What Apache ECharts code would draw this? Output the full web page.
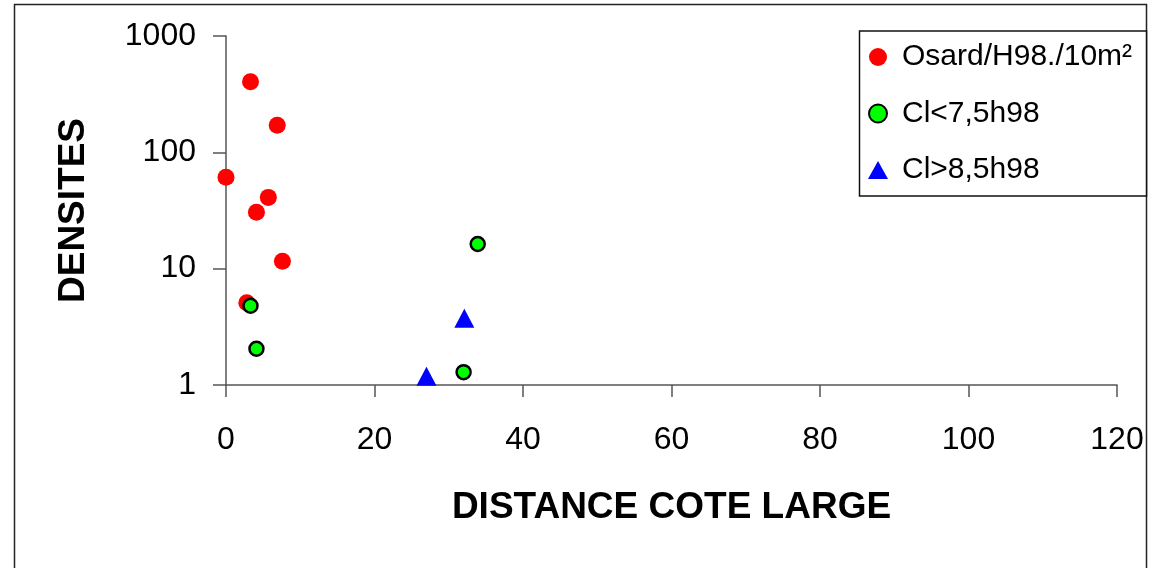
<!DOCTYPE html>
<html>
<head>
<meta charset="utf-8">
<script src="https://cdn.jsdelivr.net/npm/echarts@6/dist/echarts.min.js"></script>
<style>
  html, body { margin: 0; padding: 0; background: #fff; }
  #chart { width: 1151px; height: 568px; }
</style>
</head>
<body>
<div id="chart"></div>
<script>
// Densities against distance from the wide coast
const osardPoints = [
  [3.3, 405], [6.9, 171], [0, 61], [5.7, 41], [4.1, 30.5], [7.6, 11.6], [2.8, 5.1]
];
const clLowPoints = [
  [3.3, 4.8], [4.1, 2.05], [33.9, 16.3], [32.0, 1.29]
];
const clHighPoints = [
  [32.1, 3.75], [27.0, 1.19]
];
const seriesNames = ['Osard/H98./10m²', 'Cl<7,5h98', 'Cl>8,5h98'];
const xTicks = { min: 0, max: 120, interval: 20 };
const yTicks = { min: 1, max: 1000 };

const FONT = '"Liberation Sans", Arial, sans-serif';
const axisGray = '#555555';

const chart = echarts.init(document.getElementById('chart'), null, { renderer: 'canvas' });

chart.setOption({
  animation: false,
  backgroundColor: '#ffffff',
  textStyle: { fontFamily: FONT },
  grid: { left: 226, right: 34, top: 36, bottom: 183, containLabel: false },
  graphic: [
    {
      type: 'rect', z: -1,
      shape: { x: 14.5, y: 4.5, width: 1132, height: 600 },
      style: { fill: 'none', stroke: '#222', lineWidth: 1.5 }
    },
    {
      type: 'rect', z: 10,
      shape: { x: 859.5, y: 31, width: 287, height: 165 },
      style: { fill: '#fff', stroke: '#111', lineWidth: 1.5 }
    }
  ],
  legend: {
    orient: 'vertical',
    left: 868,
    top: 42,
    z: 20,
    padding: 0,
    itemWidth: 20,
    itemHeight: 18,
    itemGap: 26.5,
    textStyle: { fontFamily: FONT, fontSize: 30, color: '#000', lineHeight: 30, padding: [0, 0, 0, 9] },
    data: seriesNames
  },
  xAxis: {
    type: 'value',
    min: xTicks.min, max: xTicks.max, interval: xTicks.interval,
    name: 'DISTANCE COTE LARGE',
    nameLocation: 'middle',
    nameGap: 104,
    nameTextStyle: { fontFamily: FONT, fontSize: 37, fontWeight: 'bold', color: '#000', verticalAlign: 'top' },
    axisLine: { show: true, lineStyle: { color: axisGray, width: 1.5 } },
    axisTick: { show: true, inside: false, length: 12, lineStyle: { color: axisGray, width: 1.5 } },
    axisLabel: { fontFamily: FONT, fontSize: 32, color: '#000', margin: 39 },
    splitLine: { show: false }
  },
  yAxis: {
    type: 'log',
    logBase: 10,
    min: yTicks.min, max: yTicks.max,
    name: 'DENSITES',
    nameLocation: 'middle',
    nameGap: 134,
    nameRotate: 90,
    nameTextStyle: { fontFamily: FONT, fontSize: 37, fontWeight: 'bold', color: '#000', verticalAlign: 'bottom' },
    axisLine: { show: true, lineStyle: { color: axisGray, width: 1.5 } },
    axisTick: { show: true, inside: false, length: 13, lineStyle: { color: axisGray, width: 1.5 } },
    axisLabel: {
      fontFamily: FONT, fontSize: 32, color: '#000', margin: 30,
      formatter: function (v) { return String(Math.round(v)); }
    },
    splitLine: { show: false }
  },
  series: [
    {
      name: seriesNames[0],
      type: 'scatter',
      clip: false,
      symbol: 'circle',
      symbolSize: 17,
      itemStyle: { color: '#ff0000', opacity: 1 },
      data: osardPoints
    },
    {
      name: seriesNames[1],
      type: 'scatter',
      clip: false,
      symbol: 'circle',
      symbolSize: 14,
      itemStyle: { color: '#00ff00', borderColor: '#000', borderWidth: 2.5, opacity: 1 },
      data: clLowPoints
    },
    {
      name: seriesNames[2],
      type: 'scatter',
      clip: false,
      symbol: 'triangle',
      symbolSize: [20, 19],
      itemStyle: { color: '#0000ff', opacity: 1 },
      data: clHighPoints
    }
  ]
});
</script>
</body>
</html>
